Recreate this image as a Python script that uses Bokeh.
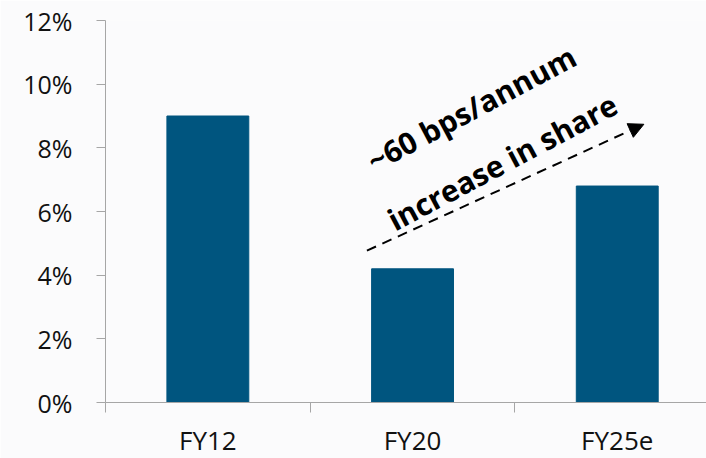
from bokeh.plotting import figure
from bokeh.models import FixedTicker, Range1d, Arrow, NormalHead, Label
from bokeh.embed import file_html
from bokeh.resources import INLINE

categories = ["FY12", "FY20", "FY25e"]
values = [9.0, 4.2, 6.8]
y_ticks = [0, 2, 4, 6, 8, 10, 12]
y_tick_labels = ["0%", "2%", "4%", "6%", "8%", "10%", "12%"]
note_line1 = "~60 bps/annum"
note_line2 = "increase in share"

BAR = "#00557f"
AXIS = "#a6a6a6"
BG = "#fbfbfc"
FONT = "Open Sans"

xs = [i + 0.5 for i in range(len(categories))]

p = figure(width=706, height=460, output_backend="svg", toolbar_location=None,
           x_range=Range1d(0, 2.936), y_range=Range1d(0, 12),
           min_border_left=105, min_border_right=0, min_border_top=20, min_border_bottom=55)
p.background_fill_color = BG
p.border_fill_color = BG
p.outline_line_color = None
p.grid.visible = False

p.vbar(x=xs, top=values, width=0.4, fill_color=BAR, line_color=BAR)

xa = p.xaxis[0]
xa.ticker = FixedTicker(ticks=xs, minor_ticks=list(range(len(categories) + 1)))
xa.major_label_overrides = {x: c for x, c in zip(xs, categories)}
xa.major_tick_out = 0
xa.major_tick_in = 0
xa.minor_tick_out = 10
xa.minor_tick_in = 0
xa.minor_tick_line_color = AXIS
xa.axis_line_color = AXIS
xa.major_label_text_font = FONT
xa.major_label_text_font_size = "26px"
xa.major_label_text_color = "#111111"
xa.major_label_standoff = 9

ya = p.yaxis[0]
ya.ticker = FixedTicker(ticks=y_ticks, minor_ticks=[])
ya.major_label_overrides = {t: l for t, l in zip(y_ticks, y_tick_labels)}
ya.major_tick_out = 9
ya.major_tick_in = 0
ya.major_tick_line_color = AXIS
ya.axis_line_color = AXIS
ya.major_label_text_font = FONT
ya.major_label_text_font_size = "25px"
ya.major_label_text_color = "#111111"
ya.major_label_standoff = 24

p.add_layout(Arrow(end=NormalHead(size=15, fill_color="black", line_color="black"),
                   x_start=1.277, y_start=4.77, x_end=2.63, y_end=8.74,
                   line_color="black", line_width=2, line_dash="10 7"))

for txt, x, y in [(note_line1, 1.788, 9.24), (note_line2, 1.939, 7.56)]:
    p.add_layout(Label(x=x, y=y, text=txt, angle=28, angle_units="deg",
                       text_align="center", text_baseline="alphabetic",
                       text_font=FONT, text_font_style="bold",
                       text_font_size="30px", text_color="#000000"))

open("out.html", "w").write(file_html(p, INLINE))
